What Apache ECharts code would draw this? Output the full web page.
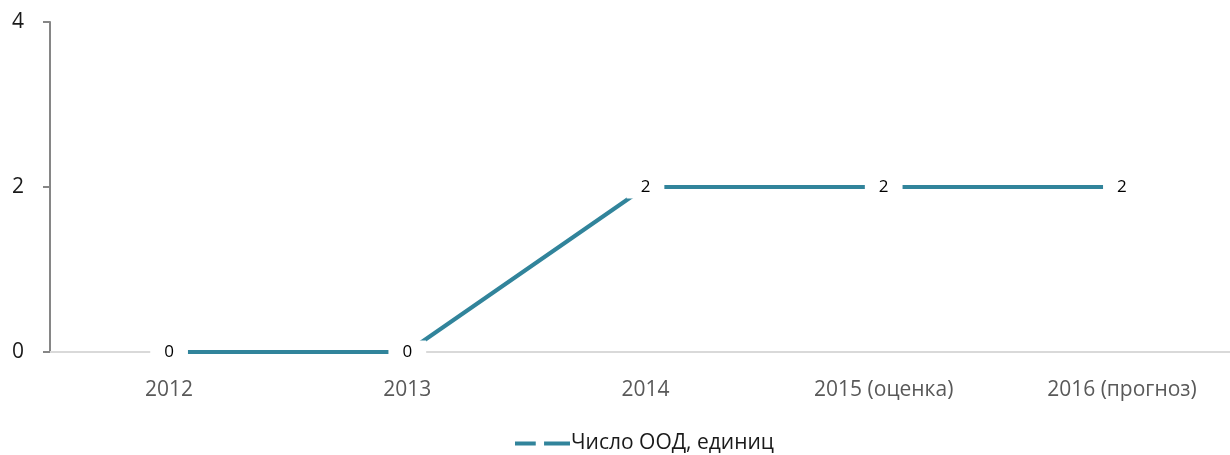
<!DOCTYPE html>
<html>
<head>
<meta charset="utf-8">
<script src="https://cdn.jsdelivr.net/npm/echarts@6/dist/echarts.min.js"></script>
<style>
  html, body { margin: 0; padding: 0; background: #fff; }
  #chart { width: 1230px; height: 455px; }
</style>
</head>
<body>
<div id="chart"></div>
<script>
// data
var years = ['2012', '2013', '2014', '2015 (оценка)', '2016 (прогноз)'];
var oodCount = [0, 0, 2, 2, 2];
var seriesName = 'Число ООД, единиц';

var font = '"Open Sans", "Noto Sans", sans-serif';
var chart = echarts.init(document.getElementById('chart'));

var option = {
    animation: false,
    textStyle: { fontFamily: font },
    grid: { left: 50, right: -11, top: 22, bottom: 103, outerBoundsMode: 'none' },
    legend: {
        top: 428,
        left: 510,
        icon: 'path://M0,0H20V4H0Z M28,0H53V4H28Z',
        itemWidth: 55,
        itemHeight: 5,
        itemGap: 10,
        textStyle: { fontSize: 21, color: '#1a1a1a', fontFamily: font, padding: [0, 0, 0, -4] },
        data: [seriesName]
    },
    xAxis: {
        type: 'category',
        data: years,
        boundaryGap: true,
        axisLine: { lineStyle: { color: '#d9d9d9', width: 2 } },
        axisTick: { show: false },
        axisLabel: { color: '#595959', fontSize: 21, margin: 28 }
    },
    yAxis: {
        type: 'value',
        min: 0,
        max: 4,
        interval: 2,
        axisLine: { show: true, lineStyle: { color: '#868686', width: 2 } },
        axisTick: { show: true, length: 7, lineStyle: { color: '#868686', width: 2 } },
        splitLine: { show: false },
        axisLabel: { color: '#1a1a1a', fontSize: 21, margin: 26 }
    },
    series: [{
        name: seriesName,
        type: 'line',
        data: oodCount,
        symbol: 'circle',
        symbolSize: 0,
        showSymbol: true,
        color: '#31849b',
        lineStyle: { color: '#31849b', width: 4 },
        label: {
            show: true,
            position: 'inside',
            color: '#000',
            fontSize: 17,
            backgroundColor: '#fff',
            padding: [3, 14]
        }
    }]
};
chart.setOption(option);
</script>
</body>
</html>
